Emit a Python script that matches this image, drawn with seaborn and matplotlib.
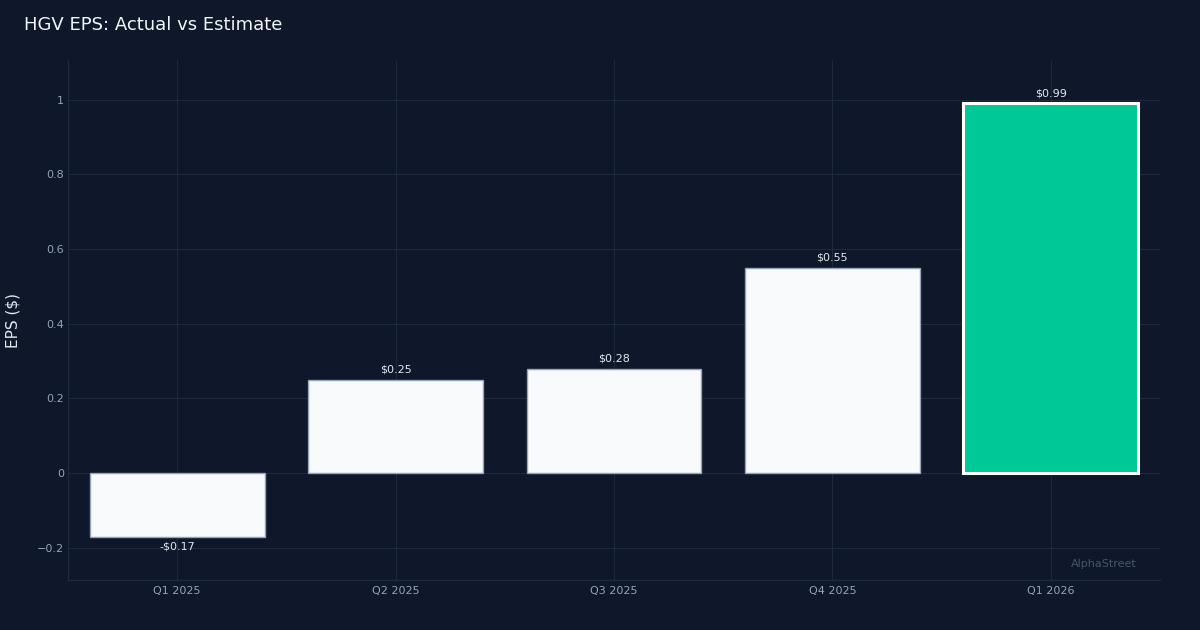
import matplotlib
matplotlib.use("Agg")
import matplotlib.pyplot as plt
import seaborn as sns
import pandas as pd

# data
quarters = ["Q1 2025", "Q2 2025", "Q3 2025", "Q4 2025", "Q1 2026"]
eps = [-0.17, 0.25, 0.28, 0.55, 0.99]
bar_colors = ["#f8fafc", "#f8fafc", "#f8fafc", "#f8fafc", "#00c896"]
edge_colors = ["#94a3b8", "#94a3b8", "#94a3b8", "#94a3b8", "#ffffff"]
edge_widths = [1.0, 1.0, 1.0, 1.0, 2.2]

bg = "#0f172a"
grid_c = "#1e293b"
tick_c = "#94a3b8"

sns.set_theme(style="dark")
plt.rcParams["font.family"] = ["DejaVu Sans"]

df = pd.DataFrame({"quarter": quarters, "eps": eps})

fig = plt.figure(figsize=(12, 6.3), dpi=100, facecolor=bg)
ax = fig.add_axes([68 / 1200, 50 / 630, (1160 - 68) / 1200, (580 - 60) / 630])
ax.set_facecolor(bg)

sns.barplot(data=df, x="quarter", y="eps", hue="quarter", palette=bar_colors,
            saturation=1, legend=False, width=0.8, ax=ax, zorder=3)

for patch, ec, lw in zip(ax.patches, edge_colors, edge_widths):
    patch.set_edgecolor(ec)
    patch.set_linewidth(lw)

# value labels
for i, v in enumerate(eps):
    txt = f"-${abs(v):.2f}" if v < 0 else f"${v:.2f}"
    ax.annotate(txt, (i, v), xytext=(0, 3.5 if v >= 0 else -3.5), textcoords="offset points",
                ha="center", va="bottom" if v >= 0 else "top",
                fontsize=8, color="#e2e8f0", zorder=4)

span = max(eps) - min(eps)
ax.set_ylim(min(eps) - 0.1 * span, max(eps) + 0.1 * span)
ax.set_xlim(-0.5, len(quarters) - 0.5)
ax.set_yticks([-0.2, 0, 0.2, 0.4, 0.6, 0.8, 1.0])
ax.set_yticklabels(["\u22120.2", "0", "0.2", "0.4", "0.6", "0.8", "1"])

ax.grid(True, color=grid_c, linewidth=0.8, zorder=0)
ax.set_axisbelow(True)
ax.tick_params(colors=tick_c, labelsize=8, length=0)
ax.tick_params(axis="x", pad=4)
ax.tick_params(axis="y", pad=3)
for side in ["top", "right"]:
    ax.spines[side].set_visible(False)
for side in ["left", "bottom"]:
    ax.spines[side].set_color(grid_c)
    ax.spines[side].set_linewidth(1)

ax.set_xlabel("")
ax.set_ylabel("EPS ($)", color="#e2e8f0", fontsize=11, labelpad=12)

fig.text(24 / 1200, 1 - 25 / 630, "HGV EPS: Actual vs Estimate", color="#f1f5f9",
         fontsize=13, ha="left", va="center")
ax.text(0.9785, 0.022, "AlphaStreet", transform=ax.transAxes, ha="right", va="bottom",
        fontsize=8, color="#475569")

fig.savefig("out.png", dpi=100, facecolor=bg)
